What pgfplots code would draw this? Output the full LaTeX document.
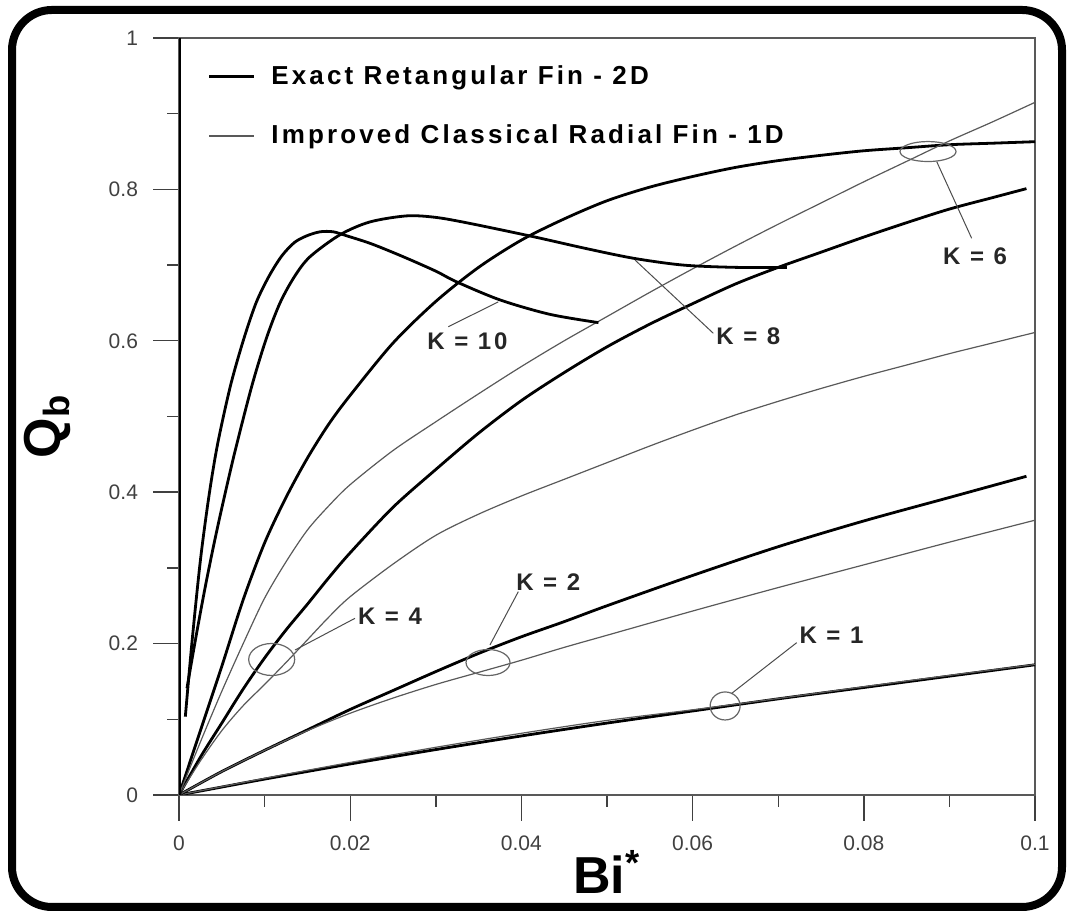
\documentclass[border=0pt]{standalone}
\usepackage{fontspec}
\setmainfont{Liberation Sans}
\newfontfamily\lsfont[LetterSpace=12]{Liberation Sans}
\usepackage{pgfplots}
\pgfplotsset{compat=1.18}
\begin{document}
\begin{tikzpicture}
\useasboundingbox (0,0) rectangle (535pt,456.5pt);
\draw[line width=4pt, rounded corners=20pt] (6pt,3pt) rectangle (531pt,451.5pt);
\begin{axis}[
  at={(89.5pt,59pt)}, anchor=south west,
  scale only axis, width=428pt, height=378.5pt,
  xmin=0, xmax=0.1, ymin=0, ymax=1,
  xtick={0,0.02,0.04,0.06,0.08,0.1},
  ytick={0,0.2,0.4,0.6,0.8,1},
  minor x tick num=1, minor y tick num=1,
  tick align=outside, xtick pos=bottom, ytick pos=left,
  major tick length=13pt, minor tick length=6pt,
  every tick/.style={black!75, line width=0.7pt},
  axis line style={black!65, line width=0.9pt},
  /pgf/number format/assume math mode=true,
  /pgf/number format/fixed,
  tick label style={font=\fontsize{10.5}{12}\selectfont, text=black!75},
  xticklabel style={yshift=-4pt},
  yticklabel style={xshift=-4pt},
  xlabel={\bfseries Bi\textsuperscript{*}},
  ylabel={\bfseries Q\textsubscript{b}},
  every axis x label/.style={at={(rel axis cs:0.5,0)}, anchor=center, yshift=-38.5pt, font=\fontsize{26}{30}\selectfont},
  every axis y label/.style={at={(rel axis cs:0,0.5)}, anchor=center, xshift=-66pt, yshift=-5pt, rotate=90, font=\fontsize{26}{30}\selectfont},
  legend style={draw=none, fill=none, at={(rel axis cs:0.026,0.975)}, anchor=north west,
    font=\fontsize{13}{15}\selectfont\lsfont\bfseries, row sep=15pt,
    /tikz/every odd column/.append style={column sep=6pt}},
  legend cell align=left,
  legend image code/.code={\draw[#1] (0pt,0pt) -- (22.5pt,0pt);},
  thickc/.style={black, line width=1.4pt, smooth},
  thinc/.style={black!65, line width=0.6pt, smooth},
]
\addlegendimage{black, line width=1.4pt}
\addlegendentry{Exact Retangular Fin - 2D}
\addlegendimage{black!65, line width=0.6pt}
\addlegendentry{Improved Classical Radial Fin - 1D}

% K = 1
\addplot[thickc] coordinates {(0,0) (0.005,0.0105) (0.01,0.021) (0.02,0.041) (0.03,0.060) (0.04,0.078) (0.05,0.095) (0.06,0.111) (0.07,0.127) (0.08,0.142) (0.09,0.157) (0.1,0.172)};
\addplot[thinc] coordinates {(0,0) (0.005,0.011) (0.01,0.022) (0.02,0.043) (0.03,0.063) (0.04,0.0815) (0.05,0.0985) (0.06,0.1125) (0.07,0.1275) (0.08,0.1430) (0.09,0.158) (0.1,0.1725)};
% K = 2
\addplot[thickc] coordinates {(0,0) (0.005,0.031) (0.01,0.059) (0.015,0.086) (0.02,0.113) (0.025,0.138) (0.03,0.163) (0.035,0.187) (0.04,0.209) (0.045,0.229) (0.05,0.250) (0.06,0.290) (0.07,0.328) (0.08,0.362) (0.09,0.393) (0.099,0.421)};
\addplot[thinc] coordinates {(0,0) (0.005,0.031) (0.01,0.059) (0.015,0.085) (0.02,0.108) (0.025,0.128) (0.03,0.146) (0.035,0.162) (0.04,0.178) (0.045,0.195) (0.05,0.211) (0.06,0.243) (0.07,0.274) (0.08,0.304) (0.09,0.334) (0.1,0.363)};
% K = 4
\addplot[thickc] coordinates {(0,0) (0.0025,0.05) (0.005,0.095) (0.0075,0.14) (0.01,0.181) (0.0125,0.218) (0.015,0.252) (0.0175,0.287) (0.02,0.32) (0.025,0.38) (0.03,0.43) (0.035,0.478) (0.04,0.521) (0.045,0.558) (0.05,0.592) (0.055,0.622) (0.06,0.649) (0.065,0.675) (0.07,0.697) (0.075,0.717) (0.08,0.737) (0.085,0.756) (0.09,0.774) (0.095,0.789) (0.099,0.801)};
\addplot[thinc] coordinates {(0,0) (0.0025,0.045) (0.005,0.085) (0.0075,0.118) (0.01,0.146) (0.0125,0.175) (0.015,0.205) (0.0175,0.235) (0.02,0.262) (0.025,0.305) (0.03,0.343) (0.035,0.371) (0.04,0.395) (0.045,0.417) (0.05,0.439) (0.055,0.461) (0.06,0.482) (0.065,0.502) (0.07,0.520) (0.075,0.537) (0.08,0.553) (0.085,0.568) (0.09,0.583) (0.095,0.597) (0.1,0.611)};
% K = 6
\addplot[thickc] coordinates {(0,0) (0.0025,0.085) (0.005,0.17) (0.0075,0.258) (0.01,0.333) (0.0125,0.393) (0.015,0.445) (0.0175,0.49) (0.02,0.528) (0.025,0.597) (0.03,0.652) (0.035,0.697) (0.04,0.733) (0.045,0.761) (0.05,0.785) (0.055,0.803) (0.06,0.817) (0.065,0.829) (0.07,0.838) (0.075,0.845) (0.08,0.851) (0.085,0.855) (0.09,0.859) (0.095,0.861) (0.1,0.863)};
\addplot[thinc] coordinates {(0,0) (0.0025,0.07) (0.005,0.137) (0.0075,0.2) (0.01,0.26) (0.0125,0.308) (0.015,0.350) (0.0175,0.382) (0.02,0.41) (0.025,0.455) (0.03,0.493) (0.035,0.53) (0.04,0.566) (0.045,0.6) (0.05,0.632) (0.055,0.664) (0.06,0.695) (0.065,0.725) (0.07,0.754) (0.075,0.782) (0.08,0.81) (0.085,0.837) (0.09,0.864) (0.095,0.889) (0.1,0.915)};
% K = 8
\addplot[thickc] coordinates {(0.00093,0.141) (0.002,0.21) (0.003,0.271) (0.004,0.327) (0.005,0.379) (0.0065,0.452) (0.0085,0.54) (0.0102,0.603) (0.0118,0.650) (0.0135,0.685) (0.0153,0.711) (0.0188,0.740) (0.0223,0.757) (0.0266,0.765) (0.03,0.763) (0.034,0.755) (0.0414,0.7375) (0.0475,0.722) (0.0531,0.709) (0.0589,0.700) (0.065,0.697) (0.071,0.697)};
% K = 10
\addplot[thickc] coordinates {(0.00074,0.1035) (0.0015,0.20) (0.0025,0.31) (0.0035,0.395) (0.0045,0.463) (0.006,0.54) (0.0075,0.60) (0.009,0.650) (0.0105,0.685) (0.012,0.712) (0.0135,0.73) (0.015,0.739) (0.0165,0.744) (0.018,0.744) (0.0195,0.739) (0.0225,0.728) (0.0262,0.711) (0.03,0.692) (0.0324,0.678) (0.0375,0.654) (0.0433,0.635) (0.049,0.624)};

% annotations
\draw[black!60, line width=0.6pt] (axis cs:0.0638,0.1176) ellipse [x radius=7.5pt, y radius=7pt];
\draw[black!60, line width=0.6pt] (axis cs:0.0361,0.175) ellipse [x radius=11pt, y radius=6.5pt];
\draw[black!60, line width=0.6pt] (axis cs:0.01083,0.179) ellipse [x radius=11.5pt, y radius=8pt];
\draw[black!60, line width=0.6pt] (axis cs:0.0875,0.850) ellipse [x radius=14pt, y radius=5pt];
\draw[black!70, line width=0.5pt] (axis cs:0.06457,0.1343) -- (axis cs:0.07216,0.2012);
\draw[black!70, line width=0.5pt] (axis cs:0.03633,0.1982) -- (axis cs:0.03964,0.2686);
\draw[black!70, line width=0.5pt] (axis cs:0.01355,0.1915) -- (axis cs:0.02056,0.2334);
\draw[black!70, line width=0.5pt] (axis cs:0.08852,0.8366) -- (axis cs:0.0926,0.7354);
\draw[black!70, line width=0.5pt] (axis cs:0.05327,0.7067) -- (axis cs:0.06242,0.6099);
\draw[black!70, line width=0.5pt] (axis cs:0.03146,0.6186) -- (axis cs:0.0373,0.6514);
\begin{scope}[every node/.style={font=\fontsize{12}{14}\selectfont\lsfont\bfseries, text=black!85, inner sep=0pt}]
\node at (axis cs:0.07623,0.2114) {K = 1};
\node at (axis cs:0.04314,0.2807) {K = 2};
\node at (axis cs:0.02465,0.2358) {K = 4};
\node at (axis cs:0.0930,0.712) {K = 6};
\node at (axis cs:0.06651,0.6057) {K = 8};
\node at (axis cs:0.0337,0.599) {K = 10};
\end{scope}
\draw[black, line width=1.5pt] (rel axis cs:0,0) -- (rel axis cs:0,1);
\end{axis}
\end{tikzpicture}
\end{document}
